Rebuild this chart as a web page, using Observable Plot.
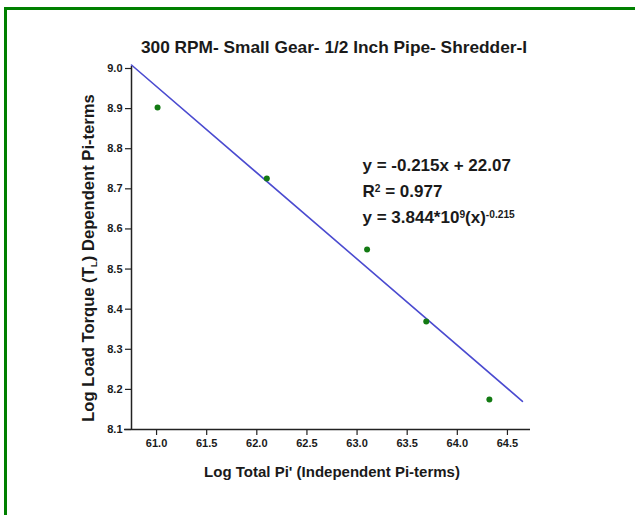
<!DOCTYPE html>
<html>
<head>
<meta charset="utf-8">
<script src="https://cdn.jsdelivr.net/npm/d3@7"></script>
<script src="https://cdn.jsdelivr.net/npm/@observablehq/plot@0.6"></script>
<style>
  html, body { margin: 0; padding: 0; background: #fff; }
  #wrap { position: relative; width: 635px; height: 515px; overflow: hidden; }
  #wrap svg { position: absolute; left: 0; top: 0; }
  .frame-top { position: absolute; left: 4px; top: 7px; width: 631px; height: 3px; background: #008000; }
  .frame-left { position: absolute; left: 4px; top: 7px; width: 3px; height: 508px; background: #008000; }
</style>
</head>
<body>
<div id="wrap">
  <div class="frame-top"></div>
  <div class="frame-left"></div>
</div>
<script>
// Observed points: log total pi term vs log load torque
const logPi = [61.01, 62.10, 63.10, 63.69, 64.32];
const logTorque = [8.903, 8.726, 8.549, 8.369, 8.175];

// Fitted line y = slope*x + intercept, drawn across its extent
const slope = -0.215;
const intercept = 22.07;
const rSquared = 0.977;
const powerCoef = 3.844;
const powerExp = 9;
const fitExtent = [60.75, 64.65];

const xTicks = [61.0, 61.5, 62.0, 62.5, 63.0, 63.5, 64.0, 64.5];
const yTicks = [8.1, 8.2, 8.3, 8.4, 8.5, 8.6, 8.7, 8.8, 8.9, 9.0];

const titleText = "300 RPM- Small Gear- 1/2 Inch Pipe- Shredder-I";
const xLabel = "Log Total Pi' (Independent Pi-terms)";
const yLabel = "Log Load Torque (T_{L}) Dependent Pi-terms";
const eqLines = [
  `y = ${slope}x + ${intercept}`,
  `R^{2} = ${rSquared}`,
  `y = ${powerCoef}*10^{${powerExp}}(x)^{${slope}}`
];

const points = logPi.map((x, i) => ({x, y: logTorque[i]}));
const fit = fitExtent.map(x => ({x, y: slope * x + intercept}));

const font = "'Liberation Sans', Arial, sans-serif";
const ink = "#1a1a1a";

const chart = Plot.plot({
  width: 635,
  height: 515,
  marginLeft: 131,
  marginRight: 103,
  marginTop: 68,
  marginBottom: 86,
  style: {fontFamily: font, background: "transparent", color: ink},
  x: {domain: [60.75, 64.75]},
  y: {domain: [8.1, 9.0]},
  marks: [
    Plot.axisX({ticks: xTicks, tickFormat: d3.format(".1f"), tickSize: 6, tickPadding: 4,
      label: null, fontSize: 11, fontWeight: "bold", stroke: "#222", strokeWidth: 1.2}),
    Plot.axisY({ticks: yTicks, tickFormat: d3.format(".1f"), tickSize: 6, tickPadding: 3,
      label: null, fontSize: 11, fontWeight: "bold", stroke: "#222", strokeWidth: 1.2}),
    Plot.ruleY([8.1], {stroke: "#222", strokeWidth: 1.5, insetLeft: -7, insetRight: 2}),
    Plot.ruleX([60.75], {stroke: "#222", strokeWidth: 1.5, insetTop: -2}),
    Plot.line(fit, {x: "x", y: "y", stroke: "#4b4bd0", strokeWidth: 1.6}),
    Plot.dot(points, {x: "x", y: "y", r: 3, fill: "#137a13", stroke: "none"}),
    Plot.text([titleText], {frameAnchor: "top", lineAnchor: "middle", dx: 2, dy: -21, fontSize: 17.3,
      fontWeight: "bold", fill: ink, className: "rich"}),
    Plot.text([xLabel], {frameAnchor: "bottom", lineAnchor: "middle", dy: 43, fontSize: 15,
      fontWeight: "bold", fill: ink, className: "rich"}),
    Plot.text([yLabel], {frameAnchor: "left", lineAnchor: "middle", dx: -43, dy: 9, rotate: -90,
      textAnchor: "middle", fontSize: 16.6, fontWeight: "bold", fill: ink, className: "rich"}),
    ...eqLines.map((line, i) => Plot.text([line], {frameAnchor: "top-left", lineAnchor: "middle",
      dx: 231, dy: 97 + i * 26, fontSize: 17, fontWeight: "bold", fill: ink, textAnchor: "start",
      className: "rich"}))
  ]
});

document.getElementById("wrap").appendChild(chart);

// Turn _{..} and ^{..} into subscript / superscript tspans
d3.select(chart).selectAll("g.rich text").each(function() {
  const el = d3.select(this);
  const raw = el.text();
  if (!/[_^]\{/.test(raw)) return;
  el.text(null);
  const parts = raw.split(/([_^]\{[^}]*\})/).filter(s => s.length);
  let pending = 0;
  parts.forEach(p => {
    const m = p.match(/^([_^])\{([^}]*)\}$/);
    if (m) {
      const shift = m[1] === "^" ? -0.45 : 0.3;
      el.append("tspan").attr("dy", `${pending + shift}em`).attr("font-size", "0.6em").text(m[2]);
      // undo the shift (in parent ems, the small tspan used 0.6em units)
      pending = -shift * 0.6;
    } else {
      const t = el.append("tspan").text(p);
      if (pending) t.attr("dy", `${pending}em`);
      pending = 0;
    }
  });
});
</script>
</body>
</html>
